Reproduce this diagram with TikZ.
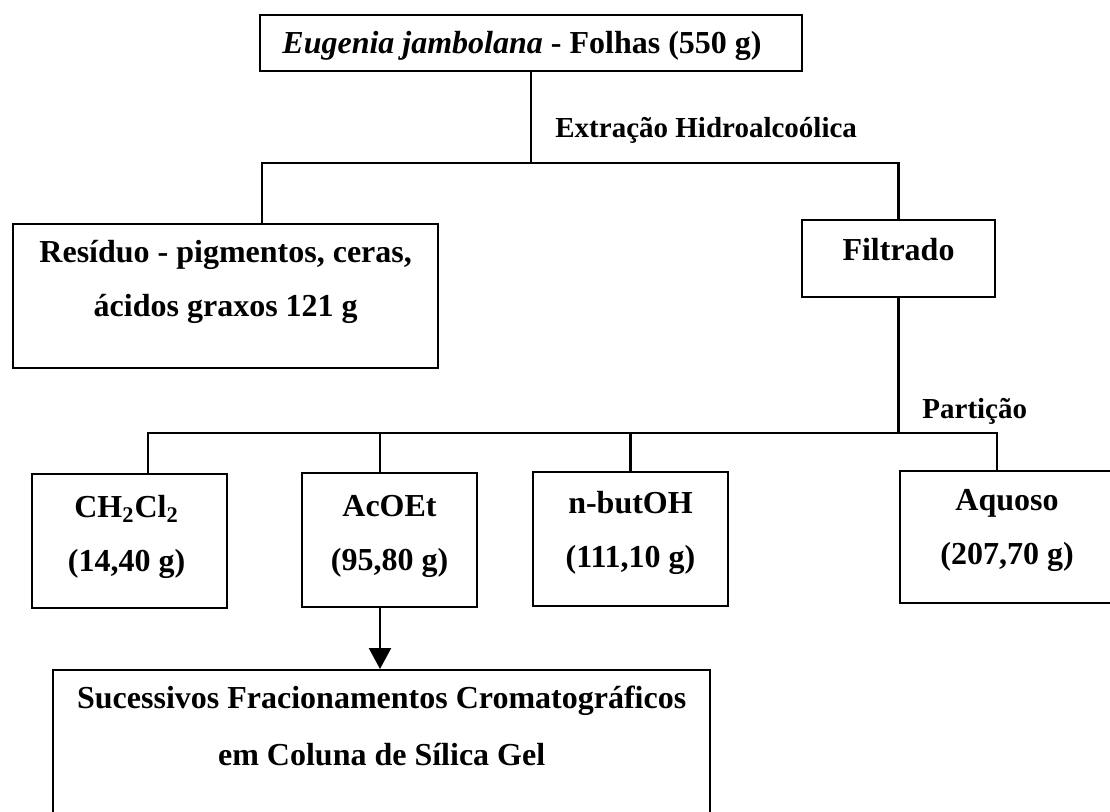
\documentclass[tikz,border=0pt]{standalone}
\usepackage{fontspec}
\setmainfont{Liberation Serif}
\usepackage{tikz}
\usetikzlibrary{arrows.meta}

\begin{document}
\begin{tikzpicture}[
  x=0.5pt,
  y=-0.5pt,
  font=\fontsize{16}{27}\selectfont\bfseries,
  box/.style={draw,line width=1.2pt,inner sep=0pt},
  boxtext/.style={anchor=north,inner sep=0pt,align=center,yshift=-#1},
  link/.style={line width=1.2pt},
  steplabel/.style={anchor=base west,inner sep=0pt,
    font=\fontsize{14.5}{17}\selectfont\bfseries}
]
  \useasboundingbox (0,0) rectangle (1110,811);

  % Plant material and extraction.
  \node[box,minimum width=271pt,minimum height=28pt] (folhas) at (531,43) {};
  \node[anchor=base,inner sep=0pt] (folhastxt)
    at ([xshift=-4.5pt,yshift=-5pt]folhas.center)
    {\textit{Eugenia jambolana} - Folhas (550 g)};
  \node[box,minimum width=212.5pt,minimum height=72pt,anchor=north west]
    (residuo) at (12,223) {};
  \node[boxtext=8.5pt] (residuotxt) at (residuo.north)
    {Resíduo - pigmentos, ceras,\\ácidos graxos 121 g};
  \node[box,minimum width=96.5pt,minimum height=38.5pt] (filtrado)
    at (898.5,258.5) {};
  \node[anchor=base,inner sep=0pt,yshift=-21pt] (filtradotxt)
    at (filtrado.north) {Filtrado};
  \node[steplabel] (extracao) at (555,137) {Extração Hidroalcoólica};

  % Partition fractions.
  \node[box,minimum width=97.5pt,minimum height=67pt] (ch) at (129.5,541) {};
  \node[boxtext=11pt] (chtxt) at ([xshift=-1.5pt]ch.north)
    {CH\textsubscript{2}Cl\textsubscript{2}\\(14,40 g)};
  \node[box,minimum width=87.5pt,minimum height=67pt] (acoet) at (389.5,540) {};
  \node[boxtext=11.5pt] (acoettxt) at (acoet.north) {AcOEt\\(95,80 g)};
  \node[box,minimum width=97.5pt,minimum height=67pt] (butoh) at (630.5,539) {};
  \node[boxtext=10pt] (butohtxt) at (butoh.north) {n-butOH\\(111,10 g)};
  \node[box,minimum width=107pt,minimum height=66pt] (aquoso) at (1007,537) {};
  \node[boxtext=9.5pt] (aquosotxt) at (aquoso.north) {Aquoso\\(207,70 g)};
  \node[steplabel] (particao) at (922,418) {Partição};

  % Column chromatography.
  \node[box,minimum width=328.5pt,minimum height=90pt,anchor=north west]
    (coluna) at (52,669) {};
  \node[boxtext=8.5pt,font=\fontsize{16}{28.5}\selectfont\bfseries]
    (colunatxt) at (coluna.north)
    {Sucessivos Fracionamentos Cromatográficos\\em Coluna de Sílica Gel};

  % Connectors.
  \coordinate (fork1) at (531,163);
  \coordinate (fork1l) at (262,163);
  \coordinate (bus) at (0,433);
  \draw[link] (folhas.south) -- (fork1);
  \draw[link] (residuo.north -| fork1l) -- (fork1l)
    -- (fork1l -| filtrado.north) -- (filtrado.north);
  \draw[link] (filtrado.south) -- (filtrado.south |- bus);
  \draw[link] ([xshift=9.25pt]ch.north) |- ([xshift=-5pt]aquoso.north |- bus)
    -- ([xshift=-5pt]aquoso.north);
  \draw[link] ([xshift=-4.75pt]acoet.north) -- ([xshift=-4.75pt]acoet.north |- bus);
  \draw[link] (butoh.north) -- (butoh.north |- bus);
  \draw[link,-{Triangle[width=11pt,length=10.5pt]}]
    ([xshift=-4.75pt]acoet.south) -- ([xshift=-4.75pt]acoet.south |- coluna.north);
\end{tikzpicture}
\end{document}
